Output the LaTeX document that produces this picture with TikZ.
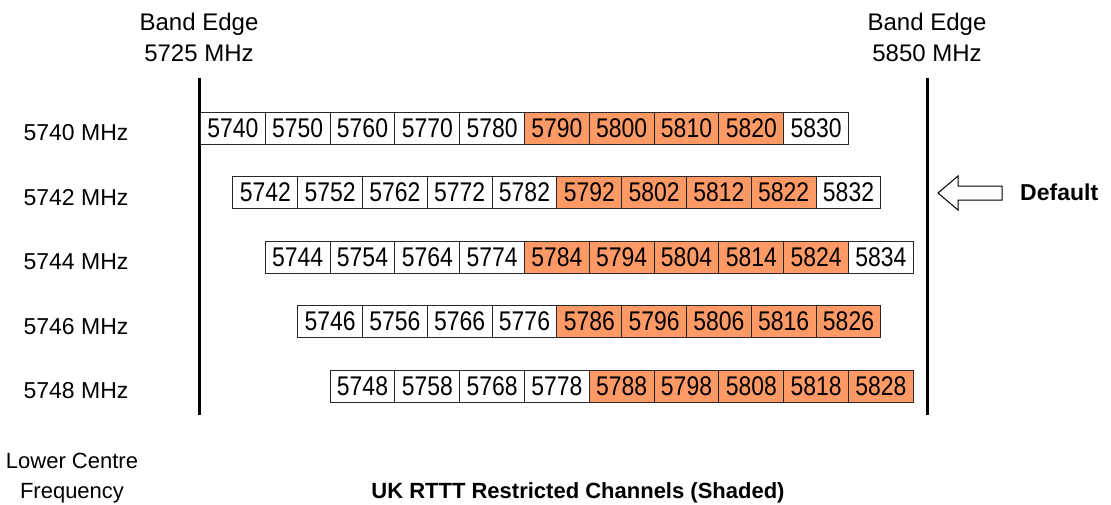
\documentclass[tikz,border=0pt]{standalone}
\usepackage{fontspec}
\setmainfont{Liberation Sans}
\newfontfamily\cellfont[FakeStretch=0.85]{Liberation Sans}
\definecolor{shade}{RGB}{255,153,102}
\definecolor{edge}{RGB}{40,40,40}
\begin{document}
\begin{tikzpicture}[x=1pt,y=-1pt,
  cell/.style={draw=edge, line width=1pt, minimum width=64.8pt, minimum height=32pt,
    inner sep=0pt, anchor=west, font=\cellfont\fontsize{27}{27}\selectfont},
  lbl/.style={inner sep=0pt, font=\fontsize{23}{23}\selectfont},
  bandlbl/.style={inner sep=0pt, align=center, anchor=north, font=\fontsize{24}{31}\selectfont},
  bandline/.style={line width=3pt},
  boldlbl/.style={inner sep=0pt, font=\bfseries\fontsize{22}{22}\selectfont}
]
\useasboundingbox (0,0) rectangle (1111,504);
\fill[white] (0,0) rectangle (1111,504);

% band edges
\node[bandlbl] (bl) at (199,13) {Band Edge\\5725 MHz};
\node[bandlbl] (br) at (927,13) {Band Edge\\5850 MHz};
\coordinate (lt) at (199,78);
\coordinate (lb) at (199,415);
\coordinate (rt) at (927,78);
\coordinate (rb) at (927,415);
\draw[bandline] (lt) -- (lb);
\draw[bandline] (rt) -- (rb);

% channel rows
\foreach \r/\n/\s in {0/10/5,1/10/5,2/10/4,3/9/4,4/9/4}{
  \pgfmathtruncatemacro\last{\n-1}
  \pgfmathtruncatemacro\lab{5740+2*\r}
  \pgfmathsetmacro\yy{128+64.5*\r}
  \node[lbl] (l-\r) at (76,\yy+5) {\lab\ MHz};
  \foreach \i in {0,...,\last}{
    \pgfmathtruncatemacro\val{5740+2*\r+10*\i}
    \pgfmathsetmacro\xx{200+32.4*\r+64.8*\i}
    \ifnum\i<\s \def\fc{white}\else\ifnum\i>8 \def\fc{white}\else\def\fc{shade}\fi\fi
    \node[cell, fill=\fc] (c-\r-\i) at (\xx,\yy) {\val};
  }
}

% default arrow
\coordinate (tip) at (938,193);
\draw[line width=1pt] (tip) -- ++(20,-17) -- ++(0,10) -- ++(44,0) -- ++(0,14)
  -- ++(-44,0) -- ++(0,10) -- cycle;
\node[boldlbl, anchor=west, font=\bfseries\fontsize{23}{23}\selectfont] (def) at (1020,192) {Default};

% bottom texts
\node[lbl, align=center, anchor=north, font=\fontsize{22}{30}\selectfont] (lcf) at (72,453) {Lower Centre\\Frequency};
\node[boldlbl, anchor=base] (title) at (578,498) {UK RTTT Restricted Channels (Shaded)};
\end{tikzpicture}
\end{document}
